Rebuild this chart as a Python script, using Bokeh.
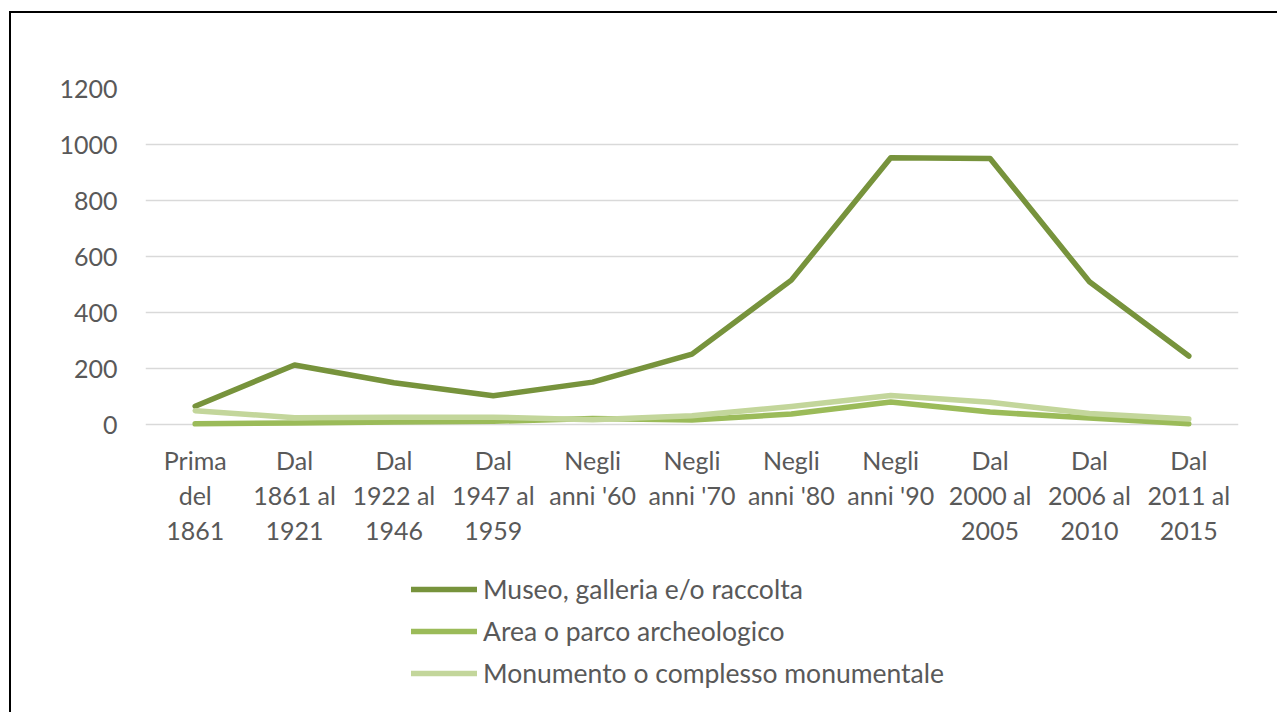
from bokeh.plotting import figure
from bokeh.layouts import column
from bokeh.models import Range1d, FactorRange, Legend, LegendItem, FixedTicker
from bokeh.embed import file_html
from bokeh.resources import INLINE

categories = ["Prima\ndel\n1861", "Dal\n1861 al\n1921", "Dal\n1922 al\n1946", "Dal\n1947 al\n1959",
              "Negli\nanni '60", "Negli\nanni '70", "Negli\nanni '80", "Negli\nanni '90",
              "Dal\n2000 al\n2005", "Dal\n2006 al\n2010", "Dal\n2011 al\n2015"]
museo = [66, 213, 150, 103, 152, 252, 516, 953, 950, 510, 245]
area = [3, 6, 10, 12, 22, 17, 38, 81, 45, 24, 3]
monumento = [50, 25, 27, 27, 18, 32, 65, 104, 80, 40, 20]
series_names = ["Museo, galleria e/o raccolta", "Area o parco archeologico",
                "Monumento o complesso monumentale"]
y_ticks = [0, 200, 400, 600, 800, 1000, 1200]

colors = ["#77933C", "#9BBB59", "#C3D69B"]
FONT = "Lato"
FS = "25px"
TXT = "#595959"
LW = 5.5

p = figure(width=1266, height=542, output_backend="svg", toolbar_location=None,
           x_range=FactorRange(*categories, range_padding=0),
           y_range=Range1d(-10, 1200),
           min_border_left=134, min_border_right=39, min_border_top=75, min_border_bottom=128)
p.outline_line_color = None
p.background_fill_color = "white"
p.border_fill_color = "white"

for vals, c in zip([museo, area, monumento], colors):
    p.line(categories, vals, line_color=c, line_width=LW, line_cap="round", line_join="round")

p.xgrid.grid_line_color = None
p.ygrid.grid_line_color = "#D9D9D9"
p.ygrid.grid_line_width = 1.5
p.yaxis.ticker = FixedTicker(ticks=y_ticks)

for ax in [p.xaxis[0], p.yaxis[0]]:
    ax.axis_line_color = None
    ax.major_tick_line_color = None
    ax.minor_tick_line_color = None
    ax.major_tick_out = 0
    ax.major_tick_in = 0
    ax.major_label_text_font = FONT
    ax.major_label_text_font_size = FS
    ax.major_label_text_color = TXT

p.xaxis.major_label_standoff = 17
p.xaxis.major_label_text_line_height = 1.167
p.yaxis.major_label_standoff = 28

# legend panel (separate figure below the chart, same width)
p2 = figure(width=1266, height=157, output_backend="svg", toolbar_location=None,
            x_range=Range1d(0, 1), y_range=Range1d(0, 1),
            x_axis_location=None, y_axis_location=None,
            min_border_left=0, min_border_right=0, min_border_top=0, min_border_bottom=0)
p2.outline_line_color = None
p2.grid.visible = False
p2.background_fill_color = "white"
p2.border_fill_color = "white"
leg_renderers = [p2.line(x=[-5, -4], y=[-5, -4], line_color=c, line_width=LW, line_cap="round")
                 for c in colors]

legend = Legend(items=[LegendItem(label=n, renderers=[r]) for n, r in zip(series_names, leg_renderers)],
                location=(266, 23), orientation="vertical",
                label_text_font=FONT, label_text_font_size="26.5px", label_text_color=TXT,
                glyph_width=66, glyph_height=30, label_height=30, spacing=10,
                label_standoff=6, padding=0, margin=0,
                border_line_color=None, background_fill_alpha=0)
p2.add_layout(legend, "center")

layout = column(p, p2, spacing=0)
layout.styles = {"border-left": "2px solid #000", "border-top": "2px solid #000",
                 "margin-left": "9px", "margin-top": "11px"}

open("out.html", "w").write(file_html(layout, INLINE))
